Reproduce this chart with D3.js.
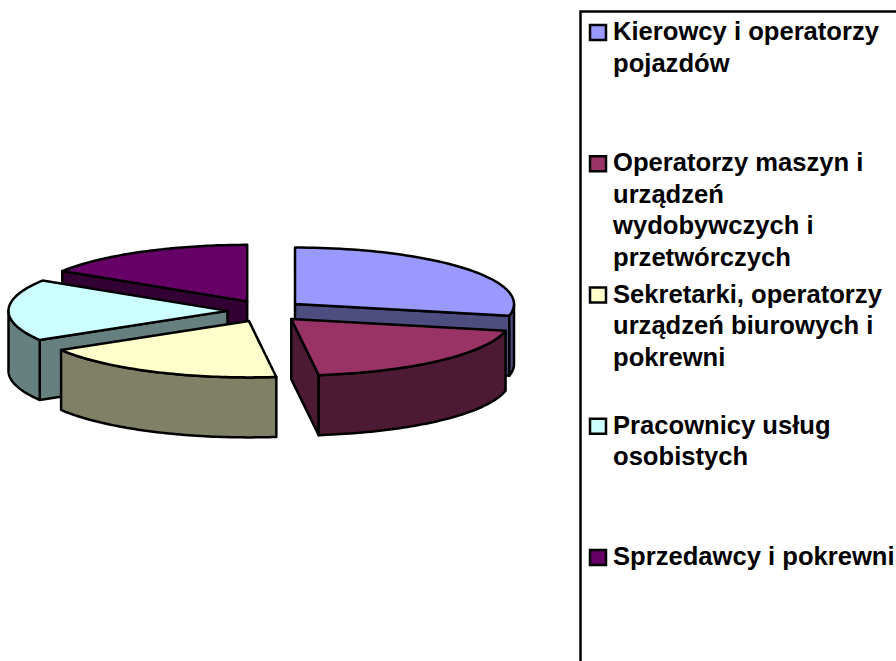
<!DOCTYPE html>
<html>
<head>
<meta charset="utf-8">
<script src="https://cdn.jsdelivr.net/npm/d3@7"></script>
<style>
  html, body { margin: 0; padding: 0; background: #fff; overflow: hidden; }
  text { font-family: "Liberation Sans", Arial, sans-serif; font-weight: bold; font-size: 25.6px; fill: #000; }
</style>
</head>
<body>
<div id="chart"></div>
<script>
// values, share in percent
const values = [28.3, 19.7, 18.4, 17.6, 16.0];
const labels = [
  ["Kierowcy i operatorzy", "pojazdów"],
  ["Operatorzy maszyn i", "urządzeń", "wydobywczych i", "przetwórczych"],
  ["Sekretarki, operatorzy", "urządzeń biurowych i", "pokrewni"],
  ["Pracownicy usług", "osobistych"],
  ["Sprzedawcy i pokrewni"],
];
const topColors = ["#9999ff", "#993366", "#ffffcc", "#ccffff", "#660066"];
const sideColors = ["#4d4d80", "#4d1a33", "#808066", "#668080", "#330033"];

const width = 896;
const height = 661;

const svg = d3.select("#chart").append("svg")
  .attr("width", width)
  .attr("height", height)
  .style("display", "block");

// pie geometry
const cx = 265.5, cy = 311;
const rx = 219, ry = 56.5;
const explodeX = 38, explodeY = 11;
const depth = 60;

const pie = d3.pie().sort(null);
const slices = pie(values).map((d, i) => ({ ...d, i }));

// unit circle to screen
const xScale = d3.scaleLinear().domain([-1, 1]).range([-rx, rx]);
const yScale = d3.scaleLinear().domain([-1, 1]).range([-ry, ry]);
const line = d3.line();

function rim(d, a) {
  const mid = (d.startAngle + d.endAngle) / 2;
  const ox = cx + explodeX * Math.sin(mid);
  const oy = cy - explodeY * Math.cos(mid);
  if (a === null) return [ox, oy];
  return [ox + xScale(Math.sin(a)), oy + yScale(-Math.cos(a))];
}
const drop = (p) => [p[0], p[1] + depth];
const arcPoints = (d, a0, a1) =>
  d3.range(0, 61).map((k) => rim(d, a0 + ((a1 - a0) * k) / 60));

function face(d, a) {
  const apex = rim(d, null);
  const edge = rim(d, a);
  return line([apex, edge, drop(edge), drop(apex)]) + "Z";
}

// only the part of the rim that faces the viewer gets a wall
function wall(d) {
  const a0 = Math.max(d.startAngle, Math.PI / 2);
  const a1 = Math.min(d.endAngle, (3 * Math.PI) / 2);
  if (a1 <= a0) return null;
  const pts = arcPoints(d, a0, a1);
  return line(pts.concat(pts.map(drop).reverse())) + "Z";
}

function topFace(d) {
  return line([rim(d, null), ...arcPoints(d, d.startAngle, d.endAngle)]) + "Z";
}

// back to front
const order = [4, 0, 3, 1, 2];
const pieG = svg.append("g")
  .attr("stroke", "#000")
  .attr("stroke-width", 2.5)
  .attr("stroke-linejoin", "round");

order.forEach((idx) => {
  const d = slices[idx];
  const g = pieG.append("g");
  const side = sideColors[idx];
  if (Math.sin(d.startAngle) < 0) g.append("path").attr("d", face(d, d.startAngle)).attr("fill", side);
  if (Math.sin(d.endAngle) > 0) g.append("path").attr("d", face(d, d.endAngle)).attr("fill", side);
  const w = wall(d);
  if (w) g.append("path").attr("d", w).attr("fill", side);
  g.append("path").attr("d", topFace(d)).attr("fill", topColors[idx]);
});

// legend, box runs off the right and bottom of the picture
const legendY = d3.scalePoint().domain(d3.range(labels.length)).range([40, 565]);
const lineH = 31.5;

const legend = svg.append("g");
legend.append("path")
  .attr("d", "M580.5," + (height + 5) + "V11.5H" + (width + 5))
  .attr("fill", "none")
  .attr("stroke", "#000")
  .attr("stroke-width", 2.5);

const items = legend.selectAll(".item")
  .data(labels)
  .enter()
  .append("g")
  .attr("class", "item")
  .attr("transform", (d, i) => `translate(0,${legendY(i)})`);

items.append("rect")
  .attr("x", 590)
  .attr("y", -15)
  .attr("width", 16)
  .attr("height", 15)
  .attr("fill", (d, i) => topColors[i])
  .attr("stroke", "#000")
  .attr("stroke-width", 2.5);

items.selectAll("text")
  .data((d) => d)
  .enter()
  .append("text")
  .attr("x", 613)
  .attr("y", (d, i) => i * lineH)
  .text((d) => d);
</script>
</body>
</html>
